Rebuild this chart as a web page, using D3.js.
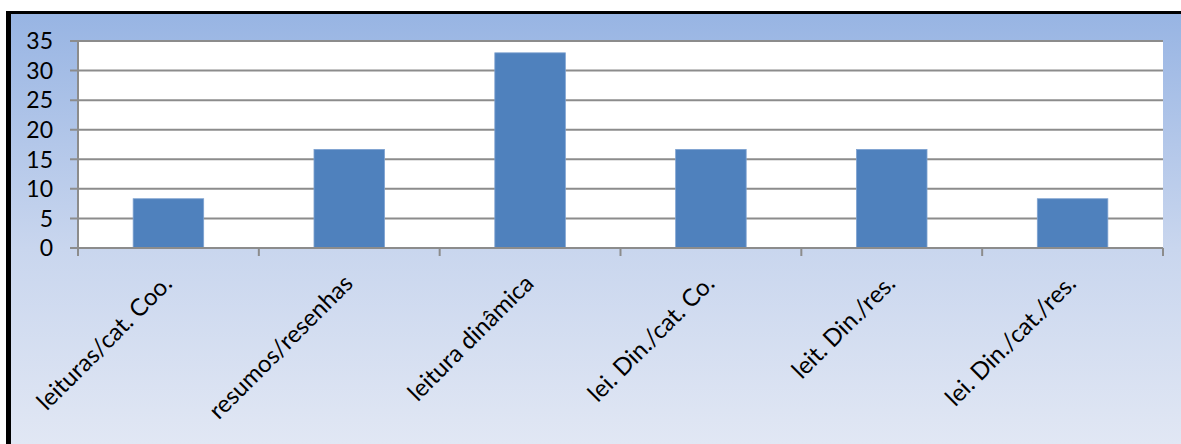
<!DOCTYPE html>
<html>
<head>
<meta charset="utf-8">
<script src="https://cdn.jsdelivr.net/npm/d3@7"></script>
<style>
  body { margin: 0; background: #fff; }
  svg { display: block; font-family: Lato, "Open Sans", sans-serif; }
</style>
</head>
<body>
<svg id="chart"></svg>
<script>
// Data
const categories = [
  "leituras/cat. Coo.",
  "resumos/resenhas",
  "leitura dinâmica",
  "lei. Din./cat. Co.",
  "leit. Din./res.",
  "lei. Din./cat./res."
];
const values = [8.33, 16.67, 33, 16.67, 16.67, 8.33];
const yTicks = [0, 5, 10, 15, 20, 25, 30, 35];

// Dimensions
const width = 1181;
const height = 444;
const plot = { left: 78, right: 1163, top: 41, bottom: 248 };

const svg = d3.select("#chart").attr("width", width).attr("height", height);

// Background gradient
const defs = svg.append("defs");
const grad = defs
  .append("linearGradient")
  .attr("id", "bg")
  .attr("x1", 0).attr("y1", 0).attr("x2", 0).attr("y2", 1);
grad.append("stop").attr("offset", "0%").attr("stop-color", "#97b4e3");
grad.append("stop").attr("offset", "55%").attr("stop-color", "#c9d6ee");
grad.append("stop").attr("offset", "100%").attr("stop-color", "#e1e7f4");

svg.append("rect")
  .attr("x", 6).attr("y", 11)
  .attr("width", width - 6).attr("height", height - 11)
  .attr("fill", "url(#bg)");

// Black frame (left + top)
svg.append("rect").attr("x", 6).attr("y", 11).attr("width", 5).attr("height", height - 11).attr("fill", "#000");
svg.append("rect").attr("x", 6).attr("y", 11).attr("width", width - 6).attr("height", 3).attr("fill", "#000");

// Plot area
svg.append("rect")
  .attr("x", plot.left).attr("y", plot.top)
  .attr("width", plot.right - plot.left).attr("height", plot.bottom - plot.top)
  .attr("fill", "#fff");

// Scales
const x = d3.scaleBand().domain(categories).range([plot.left, plot.right]).paddingInner(0.61).paddingOuter(0.305);
const y = d3.scaleLinear().domain([0, 35]).range([plot.bottom, plot.top]);

// Gridlines
svg.append("g")
  .selectAll("line")
  .data(yTicks)
  .enter()
  .append("line")
  .attr("x1", plot.left - 8)
  .attr("x2", plot.right)
  .attr("y1", (d) => y(d))
  .attr("y2", (d) => y(d))
  .attr("stroke", "#8c8c8c")
  .attr("stroke-width", 2);

// Bars
svg.append("g")
  .selectAll("rect")
  .data(values)
  .enter()
  .append("rect")
  .attr("x", (d, i) => x(categories[i]))
  .attr("y", (d) => y(d))
  .attr("width", x.bandwidth())
  .attr("height", (d) => y(0) - y(d))
  .attr("fill", "#4f81bd")
  .attr("stroke", "#7ea2d0")
  .attr("stroke-width", 0.8);

// Y axis line
svg.append("line")
  .attr("x1", plot.left).attr("x2", plot.left)
  .attr("y1", plot.top).attr("y2", plot.bottom + 8)
  .attr("stroke", "#8c8c8c").attr("stroke-width", 2);

// X axis line + ticks at category boundaries
svg.append("line")
  .attr("x1", plot.left - 8).attr("x2", plot.right)
  .attr("y1", plot.bottom).attr("y2", plot.bottom)
  .attr("stroke", "#8c8c8c").attr("stroke-width", 2);

const step = (plot.right - plot.left) / categories.length;
svg.append("g")
  .selectAll("line")
  .data(d3.range(categories.length + 1))
  .enter()
  .append("line")
  .attr("x1", (d) => plot.left + d * step)
  .attr("x2", (d) => plot.left + d * step)
  .attr("y1", plot.bottom)
  .attr("y2", plot.bottom + 8)
  .attr("stroke", "#8c8c8c")
  .attr("stroke-width", 2);

// Y labels
svg.append("g")
  .selectAll("text")
  .data(yTicks)
  .enter()
  .append("text")
  .attr("x", 53)
  .attr("y", (d) => y(d))
  .attr("dy", "0.36em")
  .attr("text-anchor", "end")
  .attr("font-size", 23)
  .attr("fill", "#000")
  .text((d) => d);

// X labels (rotated)
svg.append("g")
  .selectAll("text")
  .data(categories)
  .enter()
  .append("text")
  .attr("transform", (d) => `translate(${x(d) + x.bandwidth() / 2 + 5},${plot.bottom + 37}) rotate(-45)`)
  .attr("text-anchor", "end")
  .attr("font-size", 24)
  .attr("fill", "#000")
  .text((d) => d);
</script>
</body>
</html>
